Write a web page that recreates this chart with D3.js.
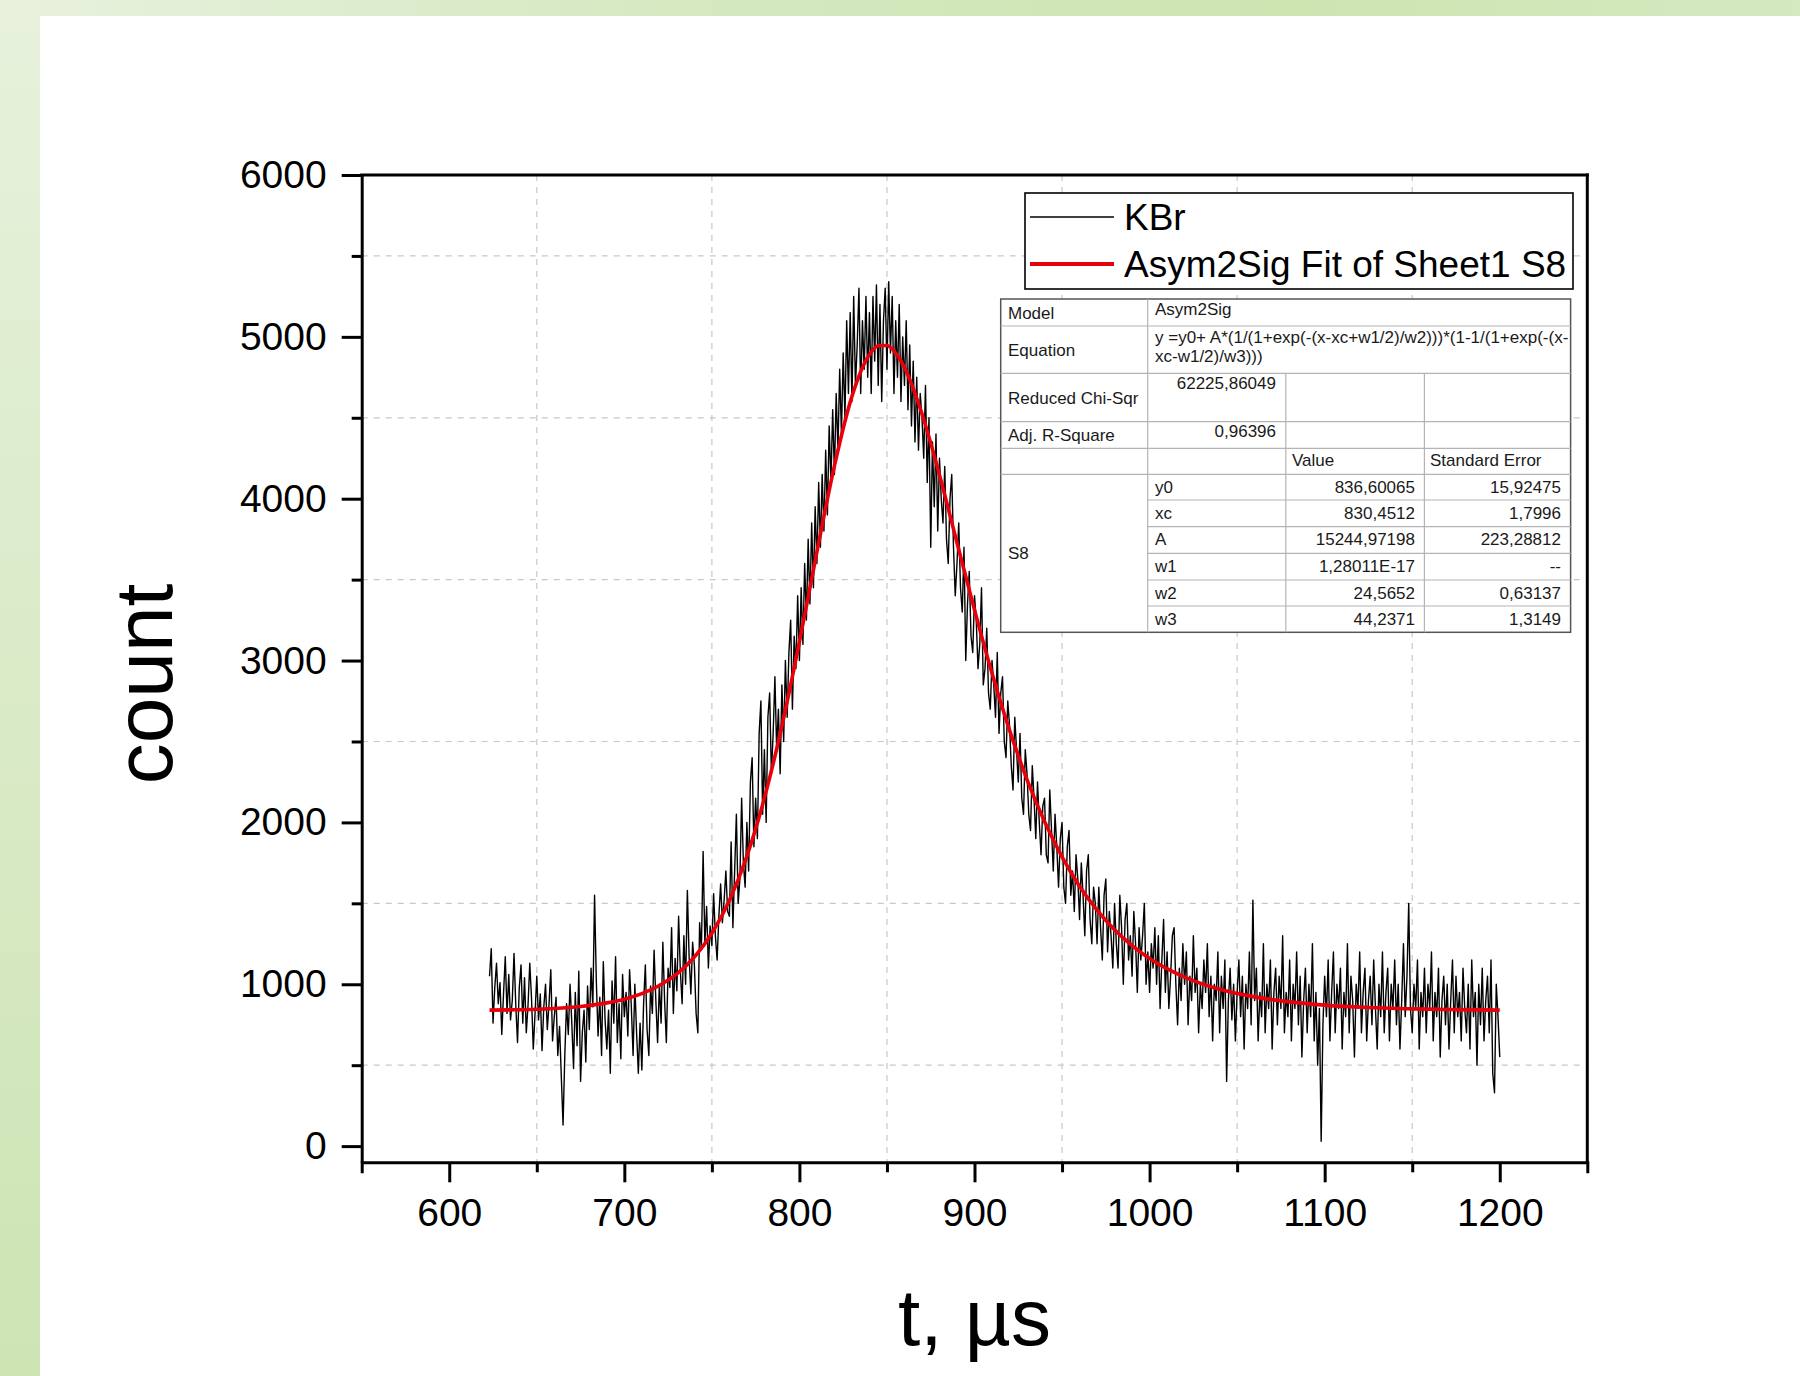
<!DOCTYPE html>
<html>
<head>
<meta charset="utf-8">
<script src="https://cdn.jsdelivr.net/npm/d3@7"></script>
<style>
html, body { margin: 0; padding: 0; background: #fff; }
svg { display: block; }
text { font-family: "Liberation Sans", Arial, sans-serif; }
</style>
</head>
<body>
<svg id="main-svg" width="1800" height="1376"></svg>
<script>
// KBr signal, one sample per microsecond from t = 623 us
var tStart = 623;
var tStep = 1;
var counts = [
    1050, 1220, 760, 980, 1130, 880, 1010,
    690, 940, 1170, 820, 1060, 780, 900, 1190, 870, 640,
    980, 1120, 760, 1040, 700, 870, 1130, 910, 600, 820,
    1050, 780, 940, 590, 860, 1000, 720, 880, 1090, 650,
    800, 920, 560, 740, 430, 130, 560, 880, 690, 1000,
    760, 480, 950, 620, 1080, 400, 700, 840, 520, 990,
    720, 1100, 860, 1550, 1020, 680, 920, 560, 1140, 780,
    600, 840, 450, 1020, 760, 1170, 640, 880, 540, 1060,
    800, 950, 680, 1090, 860, 560, 1000, 700, 450, 760,
    470, 880, 1120, 720, 560, 990, 820, 1210, 900, 640,
    1000, 760, 1260, 900, 640, 1100, 980, 1350, 820, 1160,
    960, 1420, 1080, 880, 1300, 1000, 1580, 1170, 940, 1260,
    1120, 820, 700, 1380, 1210, 1820, 1250, 1480, 1100, 1360,
    1240, 1560, 1300, 1150, 1420, 1620, 1380, 1520, 1700, 1450,
    1420, 1880, 1350, 1700, 2050, 1500, 1650, 2150, 1750, 1600,
    2000, 1700, 2250, 2400, 1850, 2150, 1900, 2550, 2750, 2050,
    2450, 2000, 2650, 2800, 2300, 2550, 2900, 2450, 2700, 2300,
    2850, 2500, 3000, 2650, 3050, 3250, 2700, 3150, 2950, 3400,
    3000, 3450, 3100, 3600, 3250, 3750, 3350, 3850, 3450, 3950,
    3600, 4100, 3700, 4150, 3800, 4300, 3900, 4450, 4100, 4550,
    4150, 4650, 4300, 4800, 4400, 4900, 4500, 5100, 4650, 5150,
    4600, 5250, 4700, 4950, 5300, 4650, 5100, 4800, 5250, 4750,
    5150, 4650, 5250, 4850, 5320, 4700, 5200, 4600, 5100, 5300,
    4800, 5340, 4900, 5250, 4650, 5100, 4750, 5200, 4600, 5000,
    4700, 5100, 4550, 4950, 4450, 4850, 4350, 4750, 4300, 4650,
    4500, 4250, 4700, 4100, 4500, 3700, 4350, 3950, 4400, 3800,
    4250, 4000, 3850, 4200, 3750, 3600, 4000, 4150, 3700, 3400,
    3600, 3850, 3450, 3300, 3700, 3000, 3350, 3550, 3150, 3050,
    3400, 3250, 2950, 3100, 3450, 2850, 2950, 3200, 2800, 2700,
    3000, 2850, 2650, 3050, 2550, 2800, 2900, 2500, 2400, 2750,
    2600, 2350, 2200, 2650, 2450, 2250, 2550, 2150, 2050, 2450,
    2300, 2050, 1950, 2350, 2150, 1900, 2250, 2000, 1800, 2100,
    2150, 1800, 1750, 2200, 1950, 1700, 2050, 1850, 1600, 1900,
    2000, 1600, 1500, 1850, 1950, 1550, 1700, 1450, 1800, 1650,
    1400, 1750, 1550, 1300, 1700, 1800, 1400, 1250, 1600, 1500,
    1250, 1600, 1350, 1150, 1550, 1650, 1200, 1450, 1300, 1100,
    1500, 1250, 1100, 1550, 1350, 1000, 1400, 1500, 1150, 1300,
    1050, 1450, 1250, 950, 1350, 1150, 1300, 1500, 1000, 1200,
    950, 1250, 1100, 1350, 1000, 1300, 850, 1150, 1400, 950,
    1200, 850, 1050, 1300, 1350, 1000, 750, 1100, 900, 1250,
    1000, 1200, 750, 1050, 900, 1300, 950, 1100, 700, 1000,
    850, 1150, 950, 1250, 800, 1050, 650, 1000, 900, 1200,
    700, 1050, 850, 1150, 400, 900, 1100, 780, 1000, 650,
    950, 1150, 800, 1050, 600, 1000, 850, 1200, 750, 1520,
    900, 1100, 650, 950, 800, 1250, 700, 1000, 850, 1150,
    600, 950, 1100, 750, 1050, 850, 1300, 700, 950, 800,
    1150, 650, 1000, 850, 1200, 750, 1050, 550, 900, 1100,
    700, 1000, 800, 1250, 650, 950, 500, 850, 30, 750,
    1050, 800, 1150, 650, 950, 1200, 700, 1000, 850, 1100,
    600, 950, 800, 1250, 700, 1050, 900, 550, 1000, 850,
    1200, 700, 950, 1100, 650, 900, 1050, 750, 1150, 850,
    600, 1000, 800, 1200, 700, 950, 1100, 650, 1000, 850,
    1150, 750, 1000, 600, 900, 1250, 800, 1050, 1500, 850,
    700, 1000, 850, 1150, 600, 950, 800, 1100, 700, 1000,
    850, 1200, 650, 950, 800, 1100, 550, 900, 1050, 750,
    1000, 600, 900, 1150, 700, 1050, 800, 950, 650, 1100,
    850, 700, 1000, 600, 1150, 800, 950, 500, 1000, 750,
    1100, 650, 900, 1050, 700, 1150, 450, 330, 1000, 800,
    550
];

// Asym2Sig fit curve
var fitT = [623, 635, 650, 675, 690, 700, 710, 720, 730, 740, 750, 760, 770, 780, 790, 800,
    810, 820, 830, 840, 845, 850, 855, 860, 870, 880, 890, 900, 910, 920, 930, 940, 950,
    960, 970, 980, 990, 1000, 1020, 1040, 1060, 1080, 1100, 1125, 1150, 1175, 1200];
var fitCounts = [840, 842, 846, 863, 885, 908, 942, 992, 1064, 1168, 1315, 1518, 1792, 2150, 2595, 3115,
    3672, 4203, 4632, 4891, 4945, 4947, 4900, 4811, 4525, 4147, 3728, 3313, 2921, 2570, 2265, 2005, 1787,
    1606, 1458, 1337, 1239, 1159, 1044, 969, 922, 891, 871, 856, 848, 843, 840];

var xTicks = [600, 700, 800, 900, 1000, 1100, 1200];
var xMinor = [650, 750, 850, 950, 1050, 1150];
var yTicks = [0, 1000, 2000, 3000, 4000, 5000, 6000];
var yMinor = [500, 1500, 2500, 3500, 4500, 5500];

var legendLabels = ['KBr', 'Asym2Sig Fit of Sheet1 S8'];

// fit report table
var statLabels = ['Model', 'Equation', 'Reduced Chi-Sqr', 'Adj. R-Square'];
var modelName = 'Asym2Sig';
var equationLines = ['y =y0+ A*(1/(1+exp(-(x-xc+w1/2)/w2)))*(1-1/(1+exp(-(x-', 'xc-w1/2)/w3)))'];
var chiSqr = '62225,86049';
var adjR2 = '0,96396';
var columnHeads = ['Value', 'Standard Error'];
var seriesName = 'S8';
var paramNames = ['y0', 'xc', 'A', 'w1', 'w2', 'w3'];
var paramValues = ['836,60065', '830,4512', '15244,97198', '1,28011E-17', '24,5652', '44,2371'];
var paramErrors = ['15,92475', '1,7996', '223,28812', '--', '0,63137', '1,3149'];

var svg = d3.select('#main-svg');

// green slide frame
var defs = svg.append('defs');
var gTop = defs.append('linearGradient').attr('id', 'gTop');
gTop.append('stop').attr('offset', '0%').attr('stop-color', '#e8f1de');
gTop.append('stop').attr('offset', '35%').attr('stop-color', '#d6e9c2');
gTop.append('stop').attr('offset', '72%').attr('stop-color', '#cde5b1');
gTop.append('stop').attr('offset', '100%').attr('stop-color', '#d5e9c0');
var gLeft = defs.append('linearGradient').attr('id', 'gLeft')
    .attr('x1', 0).attr('y1', 0).attr('x2', 0).attr('y2', 1);
gLeft.append('stop').attr('offset', '0%').attr('stop-color', '#e7f1dc');
gLeft.append('stop').attr('offset', '100%').attr('stop-color', '#cde4b3');

svg.append('rect').attr('x', 0).attr('y', 0).attr('width', 1800).attr('height', 16).attr('fill', 'url(#gTop)');
svg.append('rect').attr('x', 0).attr('y', 0).attr('width', 40).attr('height', 1376).attr('fill', 'url(#gLeft)');

var pLeft = 361.7, pRight = 1587.3, pTop = 175, pBottom = 1162.3;

var x = d3.scaleLinear().domain([550, 1250]).range([pLeft, pRight]);
var y = d3.scaleLinear().domain([-100, 6000]).range([pBottom, pTop]);

// dashed grid at the minor positions
var grid = svg.append('g');
grid.selectAll('.gx').data(xMinor).enter().append('line')
    .attr('x1', d => x(d)).attr('x2', d => x(d))
    .attr('y1', pTop).attr('y2', pBottom)
    .attr('stroke', '#c8c8c8').attr('stroke-width', 1.2).attr('stroke-dasharray', '6,6');
grid.selectAll('.gy').data(yMinor).enter().append('line')
    .attr('x1', pLeft).attr('x2', pRight)
    .attr('y1', d => y(d)).attr('y2', d => y(d))
    .attr('stroke', '#c8c8c8').attr('stroke-width', 1.2).attr('stroke-dasharray', '6,6');

// data + fit
var line = d3.line()
    .x((d, i) => x(tStart + i * tStep))
    .y(d => y(d));
svg.append('path').datum(counts)
    .attr('d', line)
    .attr('fill', 'none').attr('stroke', '#000').attr('stroke-width', 1.4)
    .attr('stroke-linejoin', 'round');

var fitLine = d3.line()
    .x((d, i) => x(fitT[i]))
    .y(d => y(d))
    .curve(d3.curveMonotoneX);
svg.append('path').datum(fitCounts)
    .attr('d', fitLine)
    .attr('fill', 'none').attr('stroke', '#e8000b').attr('stroke-width', 3.6);

// frame top / right
svg.append('line').attr('x1', pLeft).attr('x2', pRight).attr('y1', pTop).attr('y2', pTop)
    .attr('stroke', '#000').attr('stroke-width', 3).attr('stroke-linecap', 'square');
svg.append('line').attr('x1', pRight).attr('x2', pRight).attr('y1', pTop).attr('y2', pBottom)
    .attr('stroke', '#000').attr('stroke-width', 3).attr('stroke-linecap', 'square');

// axes
var fmt = d3.format('d');
var xAxis = svg.append('g').attr('transform', 'translate(0,' + pBottom + ')')
    .call(d3.axisBottom(x).tickValues(xTicks).tickFormat(fmt).tickSize(20).tickSizeOuter(11).tickPadding(16));
var xMinorAxis = svg.append('g').attr('transform', 'translate(0,' + pBottom + ')')
    .call(d3.axisBottom(x).tickValues(xMinor).tickSize(10).tickSizeOuter(0).tickFormat(''));
var yAxis = svg.append('g').attr('transform', 'translate(' + pLeft + ',0)')
    .call(d3.axisLeft(y).tickValues(yTicks).tickFormat(fmt).tickSize(20).tickSizeOuter(0).tickPadding(15));
var yMinorAxis = svg.append('g').attr('transform', 'translate(' + pLeft + ',0)')
    .call(d3.axisLeft(y).tickValues(yMinor).tickSize(10).tickSizeOuter(0).tickFormat(''));

[xAxis, xMinorAxis, yAxis, yMinorAxis].forEach(function(a) {
    a.selectAll('path, line').attr('stroke', '#000').attr('stroke-width', 3);
    a.selectAll('text').attr('fill', '#000')
        .style('font-family', '"Liberation Sans", Arial, sans-serif')
        .style('font-size', '39px');
});
xMinorAxis.select('.domain').remove();
yMinorAxis.select('.domain').remove();

// axis titles
svg.append('text')
    .attr('transform', 'translate(172,684) rotate(-90)')
    .attr('text-anchor', 'middle')
    .style('font-size', '82px')
    .text('count');
svg.append('text')
    .attr('x', (pLeft + pRight) / 2).attr('y', 1345)
    .attr('text-anchor', 'middle')
    .style('font-size', '80px')
    .text('t, \u00b5s');

// legend
var legend = svg.append('g');
legend.append('rect')
    .attr('x', 1025).attr('y', 193).attr('width', 548).attr('height', 96)
    .attr('fill', '#fff').attr('stroke', '#000').attr('stroke-width', 1.6);
var legendColors = ['#000', '#e8000b'];
var legendWidths = [1.4, 4];
legendLabels.forEach(function(lbl, i) {
    var ly = 217 + i * 47;
    legend.append('line')
        .attr('x1', 1030).attr('x2', 1114).attr('y1', ly).attr('y2', ly)
        .attr('stroke', legendColors[i]).attr('stroke-width', legendWidths[i]);
    legend.append('text')
        .attr('x', 1124).attr('y', ly + 13)
        .style('font-size', '37px')
        .text(lbl);
});

// fit table
var tbl = svg.append('g');
var tx0 = 1000.7, tx1 = 1147.7, tx2 = 1285.8, tx3 = 1424.4, tx4 = 1570.6;
var rowY = [299, 326, 373.3, 421.7, 448.3, 474.3, 500, 526.7, 553.3, 580, 606, 632.3];
var inner = '#b4b4b4';
tbl.append('rect').attr('x', tx0).attr('y', rowY[0]).attr('width', tx4 - tx0).attr('height', rowY[11] - rowY[0])
    .attr('fill', '#fff').attr('stroke', '#555').attr('stroke-width', 1.5);
for (var r = 1; r <= 5; r++) {
    tbl.append('line').attr('x1', tx0).attr('x2', tx4).attr('y1', rowY[r]).attr('y2', rowY[r])
        .attr('stroke', inner).attr('stroke-width', 1.2);
}
for (var r = 6; r <= 10; r++) {
    tbl.append('line').attr('x1', tx1).attr('x2', tx4).attr('y1', rowY[r]).attr('y2', rowY[r])
        .attr('stroke', inner).attr('stroke-width', 1.2);
}
tbl.append('line').attr('x1', tx1).attr('x2', tx1).attr('y1', rowY[0]).attr('y2', rowY[11])
    .attr('stroke', inner).attr('stroke-width', 1.2);
[tx2, tx3].forEach(function(cx) {
    tbl.append('line').attr('x1', cx).attr('x2', cx).attr('y1', rowY[2]).attr('y2', rowY[11])
        .attr('stroke', inner).attr('stroke-width', 1.2);
});

function cell(txt, xx, yy, anchor) {
    tbl.append('text').attr('x', xx).attr('y', yy)
        .attr('text-anchor', anchor || 'start')
        .attr('fill', '#1a1a1a')
        .style('font-size', '17px')
        .text(txt);
}
// labels centred vertically in their rows
statLabels.forEach(function(s, i) {
    cell(s, 1008, (rowY[i] + rowY[i + 1]) / 2 + 6);
});
cell(modelName, 1155, 315);
cell(equationLines[0], 1155, 343);
cell(equationLines[1], 1155, 362);
cell(chiSqr, 1276, 389, 'end');
cell(adjR2, 1276, 437, 'end');
cell(columnHeads[0], 1292, 466);
cell(columnHeads[1], 1430, 466);
cell(seriesName, 1008, (rowY[5] + rowY[11]) / 2 + 6);
paramNames.forEach(function(p, i) {
    var by = rowY[5 + i] + 18.5;
    cell(p, 1155, by);
    cell(paramValues[i], 1415, by, 'end');
    cell(paramErrors[i], 1561, by, 'end');
});
</script>
</body>
</html>
